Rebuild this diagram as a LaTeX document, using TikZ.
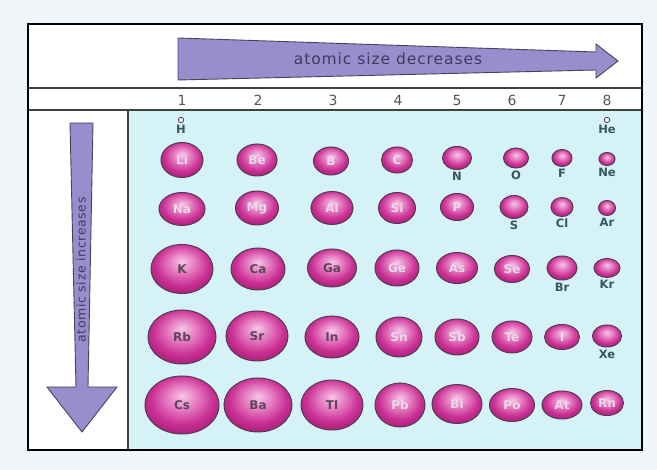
\documentclass[tikz,border=0pt]{standalone}
\usepackage{fontspec}
\setmainfont{DejaVu Sans}
\usetikzlibrary{shapes.geometric,positioning}

\definecolor{pagebg}{RGB}{239,245,249}
\definecolor{tablebg}{RGB}{213,242,247}
\definecolor{arrowfill}{RGB}{152,142,206}
\definecolor{arrowedge}{RGB}{70,68,90}
\definecolor{arrowtext}{RGB}{62,60,92}
\definecolor{atomhi}{RGB}{246,198,232}
\definecolor{atommid}{RGB}{230,126,194}
\definecolor{atommag}{RGB}{202,48,148}
\definecolor{atomdark}{RGB}{160,28,112}
\definecolor{atomedge}{RGB}{82,60,85}
\definecolor{symbtext}{RGB}{58,84,92}
\definecolor{intext}{RGB}{232,218,230}
\definecolor{intextdark}{RGB}{92,70,90}
\definecolor{numtext}{RGB}{85,85,85}

\pgfdeclareradialshading{atomball}{\pgfqpoint{0bp}{8bp}}{color(0bp)=(atomhi); color(10bp)=(atommid); color(21bp)=(atommag); color(31bp)=(atomdark); color(50bp)=(atomdark)}

\tikzset{
  atom/.style={ellipse, shade, shading=atomball, draw=atomedge, line width=1pt,
    inner sep=0pt, font=\fontsize{12}{13}\selectfont\bfseries, text=intext},
  darklabel/.style={text=intextdark},
  rad/.style 2 args={minimum width={2*#1pt}, minimum height={2*#2pt}},
  tinyatom/.style={circle, draw=atomedge, fill=white!92!gray, line width=0.8pt,
    minimum size=5.5pt, inner sep=0pt},
  symb/.style={font=\fontsize{11.5}{12}\selectfont\bfseries, text=symbtext, inner sep=0pt},
  colnum/.style={font=\fontsize{14}{15}\selectfont, text=numtext},
  bigarrow/.style={fill=arrowfill, draw=arrowedge, line width=0.9pt, line join=miter},
  tableline/.style={draw=black!75, line width=1.3pt}
}

\begin{document}
\begin{tikzpicture}[x=1pt, y=-1pt]
	\useasboundingbox (0,0) rectangle (657,470);
	\fill[pagebg] (0,0) rectangle (657,470);

	% Table
	\fill[white] (28,24) rectangle (642,450);
	\fill[tablebg] (128,110) rectangle (642,450);
	\draw[tableline] (28,88) -- (642,88);
	\draw[tableline] (28,110) -- (642,110);
	\draw[tableline] (128,110) -- (128,450);
	\draw[black, line width=2.2pt] (28,24) rectangle (642,450);

	% Arrows
	\draw[bigarrow] (178,38) -- (596,52) -- (596,44) -- (618,61) -- (596,78) -- (596,70) -- (178,80) -- cycle;
	\node[font=\fontsize{15.5}{16}\selectfont\addfontfeature{LetterSpace=6}, text=arrowtext] (sizedec) at (388,59) {atomic size decreases};
	\draw[bigarrow] (70,123) -- (93,123) -- (88,387) -- (117,387) -- (82,432) -- (47,387) -- (76,387) -- cycle;
	\node[rotate=90, font=\fontsize{12.5}{13}\selectfont\addfontfeature{LetterSpace=5}, text=arrowtext] (sizeinc) at (81,270) {atomic size increases};

	% Group numbers
	\node[colnum] (col1) at (182,100) {1};
	\node[colnum] (col2) at (258,100) {2};
	\node[colnum] (col3) at (333,100) {3};
	\node[colnum] (col4) at (398,100) {4};
	\node[colnum] (col5) at (457,100) {5};
	\node[colnum] (col6) at (512,100) {6};
	\node[colnum] (col7) at (562,100) {7};
	\node[colnum] (col8) at (607,100) {8};

	% Period 1
	\node[tinyatom] (H) at (181,120) {};
	\node[symb, below=1.5pt of H] (Hlbl) {H};
	\node[tinyatom] (He) at (607,120) {};
	\node[symb, below=1.5pt of He] (Helbl) {He};

	% Period 2
	\node[atom, rad={21}{17.5}] (Li) at (182,160) {Li};
	\node[atom, rad={20}{16}] (Be) at (257,160) {Be};
	\node[atom, rad={17.5}{14}] (B) at (331,161) {B};
	\node[atom, rad={15.5}{13}] (C) at (397,160) {C};
	\node[atom, rad={14.5}{11.5}] (N) at (457,158) {};
	\node[symb, below=2pt of N] (Nlbl) {N};
	\node[atom, rad={12.5}{10}] (O) at (516,158) {};
	\node[symb, below=2pt of O] (Olbl) {O};
	\node[atom, rad={10}{8.5}] (F) at (562,158) {};
	\node[symb, below=2pt of F] (Flbl) {F};
	\node[atom, rad={8}{6.5}] (Ne) at (607,159) {};
	\node[symb, below=2pt of Ne] (Nelbl) {Ne};

	% Period 3
	\node[atom, rad={23}{16.5}] (Na) at (182,209) {Na};
	\node[atom, rad={21.5}{17}] (Mg) at (257,208) {Mg};
	\node[atom, rad={21}{16.5}] (Al) at (332,208) {Al};
	\node[atom, rad={18.5}{15.5}] (Si) at (397,208) {Si};
	\node[atom, rad={16.5}{13.5}] (P) at (457,207) {P};
	\node[atom, rad={14}{11.5}] (S) at (514,207) {};
	\node[symb, below=2pt of S] (Slbl) {S};
	\node[atom, rad={11}{9.5}] (Cl) at (562,207) {};
	\node[symb, below=2pt of Cl] (Cllbl) {Cl};
	\node[atom, rad={8.5}{7.5}] (Ar) at (607,208) {};
	\node[symb, below=2pt of Ar] (Arlbl) {Ar};

	% Period 4
	\node[atom, darklabel, rad={31}{24.5}] (K) at (182,269) {K};
	\node[atom, darklabel, rad={27}{21}] (Ca) at (258,269) {Ca};
	\node[atom, darklabel, rad={24.5}{19}] (Ga) at (332,268) {Ga};
	\node[atom, rad={22}{18}] (Ge) at (397,268) {Ge};
	\node[atom, rad={20.5}{15.5}] (As) at (457,268) {As};
	\node[atom, rad={17.5}{13.5}] (Se) at (512,269) {Se};
	\node[atom, rad={15}{12}] (Br) at (562,268) {};
	\node[symb, below=2pt of Br] (Brlbl) {Br};
	\node[atom, rad={13}{9.5}] (Kr) at (607,268) {};
	\node[symb, below=2pt of Kr] (Krlbl) {Kr};

	% Period 5
	\node[atom, darklabel, rad={34}{27}] (Rb) at (182,337) {Rb};
	\node[atom, darklabel, rad={31}{25}] (Sr) at (257,336) {Sr};
	\node[atom, darklabel, rad={27}{21}] (In) at (332,337) {In};
	\node[atom, rad={23}{20}] (Sn) at (399,337) {Sn};
	\node[atom, rad={22}{18}] (Sb) at (457,337) {Sb};
	\node[atom, rad={20}{16}] (Te) at (512,337) {Te};
	\node[atom, rad={17.5}{12.5}] (I) at (562,337) {I};
	\node[atom, rad={14.5}{11}] (Xe) at (607,336) {};
	\node[symb, below=2pt of Xe] (Xelbl) {Xe};

	% Period 6
	\node[atom, darklabel, rad={37}{29}] (Cs) at (182,405) {Cs};
	\node[atom, darklabel, rad={34}{27}] (Ba) at (258,405) {Ba};
	\node[atom, darklabel, rad={31}{25}] (Tl) at (332,405) {Tl};
	\node[atom, rad={25}{22}] (Pb) at (400,405) {Pb};
	\node[atom, rad={25}{19.5}] (Bi) at (457,404) {Bi};
	\node[atom, rad={22.5}{16.5}] (Po) at (512,405) {Po};
	\node[atom, rad={20}{14}] (At) at (562,405) {At};
	\node[atom, rad={16.5}{12.5}] (Rn) at (607,403) {Rn};
\end{tikzpicture}
\end{document}
